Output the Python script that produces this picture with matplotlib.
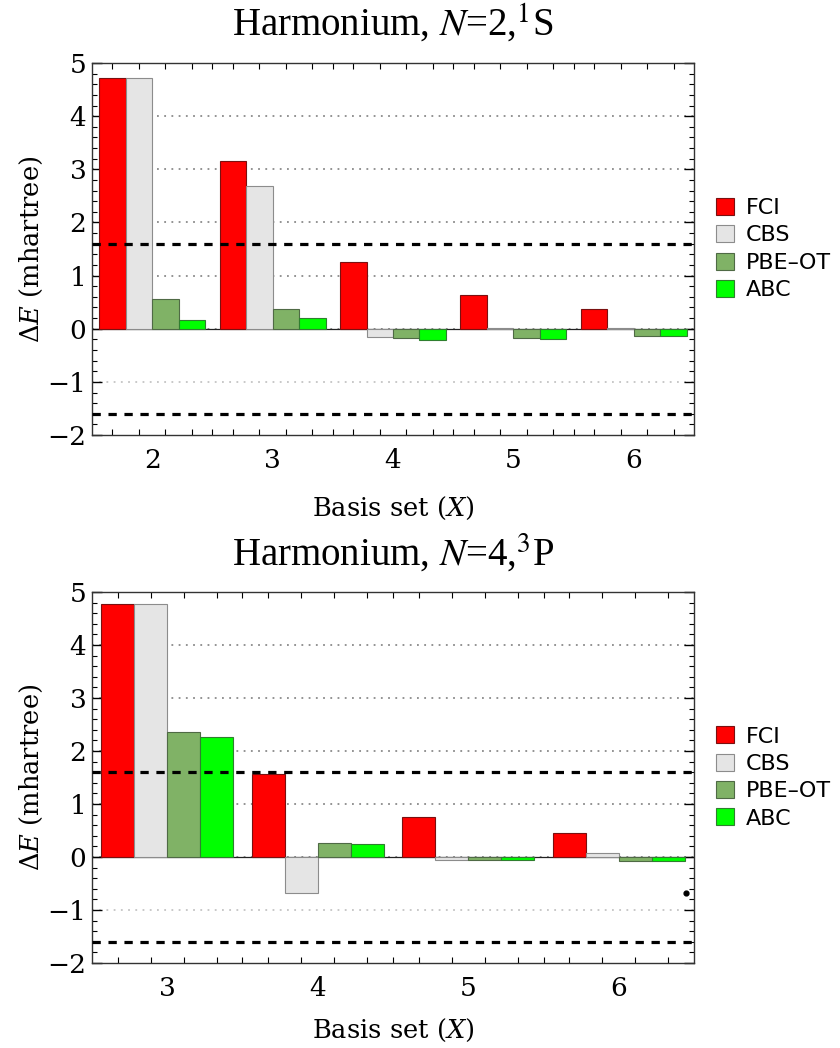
import numpy as np
import matplotlib
matplotlib.use('Agg')
import matplotlib.pyplot as plt
import matplotlib.ticker as ticker

plt.rcParams['font.family'] = 'DejaVu Serif'
plt.rcParams['mathtext.fontset'] = 'dejavuserif'

series = ['FCI', 'CBS', 'PBE\u2013OT', 'ABC']
face_colors = ['#ff0000', '#e5e5e5', '#80b266', '#00ff00']
edge_colors = ['#7a1010', '#8c8c8c', '#4f6a45', '#2f7f2f']

# N=2, 1S
basis_n2 = [2, 3, 4, 5, 6]
fci_n2 = [4.72, 3.16, 1.25, 0.63, 0.38]
cbs_n2 = [4.72, 2.68, -0.15, 0.01, 0.01]
pbe_n2 = [0.55, 0.38, -0.18, -0.18, -0.13]
abc_n2 = [0.16, 0.21, -0.22, -0.20, -0.13]

# N=4, 3P
basis_n4 = [3, 4, 5, 6]
fci_n4 = [4.77, 1.56, 0.76, 0.46]
cbs_n4 = [4.77, -0.68, -0.06, 0.07]
pbe_n4 = [2.35, 0.26, -0.05, -0.075]
abc_n4 = [2.27, 0.245, -0.05, -0.075]

# stray point in the N=4 panel
stray_x = [6.45]
stray_y = [-0.68]

threshold = 1.6
bar_w = 0.22


def draw_panel(ax, basis, values, title, xpad):
    basis = np.array(basis, dtype=float)
    offsets = (np.arange(len(values)) - 1.5) * bar_w
    for i, vals in enumerate(values):
        ax.bar(basis + offsets[i], vals, width=bar_w, color=face_colors[i],
               edgecolor=edge_colors[i], linewidth=0.8, label=series[i], zorder=2)

    for y in [1, 2, 3, 4, 0]:
        ax.axhline(y, color='#8a8a8a', lw=1.3, ls=(0, (1, 3)), zorder=1)
    ax.axhline(-1, color='#c4c4c4', lw=1.3, ls=(0, (1, 3)), zorder=1)
    ax.axhline(0, color='#222222', lw=0.9, zorder=1.5)
    for y in [threshold, -threshold]:
        ax.axhline(y, color='black', lw=2.3, ls=(0, (2.6, 2.4)), zorder=3)

    ax.set_xlim(basis[0] - 0.5, basis[-1] + 0.5)
    ax.set_ylim(-2, 5)
    ax.set_xticks(basis)
    ax.set_xticklabels([str(int(b)) for b in basis])
    minor_x = np.concatenate([b + offsets for b in basis] + [basis[:-1] + 0.5])
    ax.xaxis.set_minor_locator(ticker.FixedLocator(minor_x))
    ax.yaxis.set_major_locator(ticker.MultipleLocator(1))
    ax.yaxis.set_minor_locator(ticker.MultipleLocator(0.2))
    ax.yaxis.set_major_formatter(ticker.FuncFormatter(lambda v, p: f'{int(v)}'.replace('-', '\u2212')))
    ax.tick_params(which='both', direction='in', top=True, right=True, labelsize=19)
    ax.tick_params(axis='x', which='major', length=0, pad=9)
    ax.tick_params(axis='x', which='minor', length=4, width=0.8)
    ax.tick_params(axis='y', which='major', length=7, width=1, pad=4)
    ax.tick_params(axis='y', which='minor', length=3.5, width=0.8)
    for s in ax.spines.values():
        s.set_color('#333333')
        s.set_linewidth(1)

    ax.set_ylabel(r'$\Delta E$ (mhartree)', fontsize=18.5, labelpad=2)
    ax.set_xlabel(r'Basis set $(X)$', fontsize=18.5, labelpad=xpad)
    ax.set_title(title, fontsize=28, family='Liberation Serif', math_fontfamily='stix', pad=19)
    ax.legend(loc='center left', bbox_to_anchor=(1.0, 0.5), frameon=False,
              prop={'family': 'DejaVu Sans', 'size': 16}, handlelength=0.8,
              handleheight=0.8, handletextpad=0.55, labelspacing=0.32, borderaxespad=0.6)


fig = plt.figure(figsize=(8.4, 10.48), dpi=100)
ax1 = fig.add_axes([0.1095, 0.5849, 0.7167, 0.355])
ax2 = fig.add_axes([0.1095, 0.0811, 0.7167, 0.354])

draw_panel(ax1, basis_n2, [fci_n2, cbs_n2, pbe_n2, abc_n2], r'Harmonium, $N$=2,$^{1}$S', 16)
draw_panel(ax2, basis_n4, [fci_n4, cbs_n4, pbe_n4, abc_n4], r'Harmonium, $N$=4,$^{3}$P', 12)
ax2.scatter(stray_x, stray_y, s=12, color='black', zorder=4)

fig.savefig('out.png', dpi=100)
